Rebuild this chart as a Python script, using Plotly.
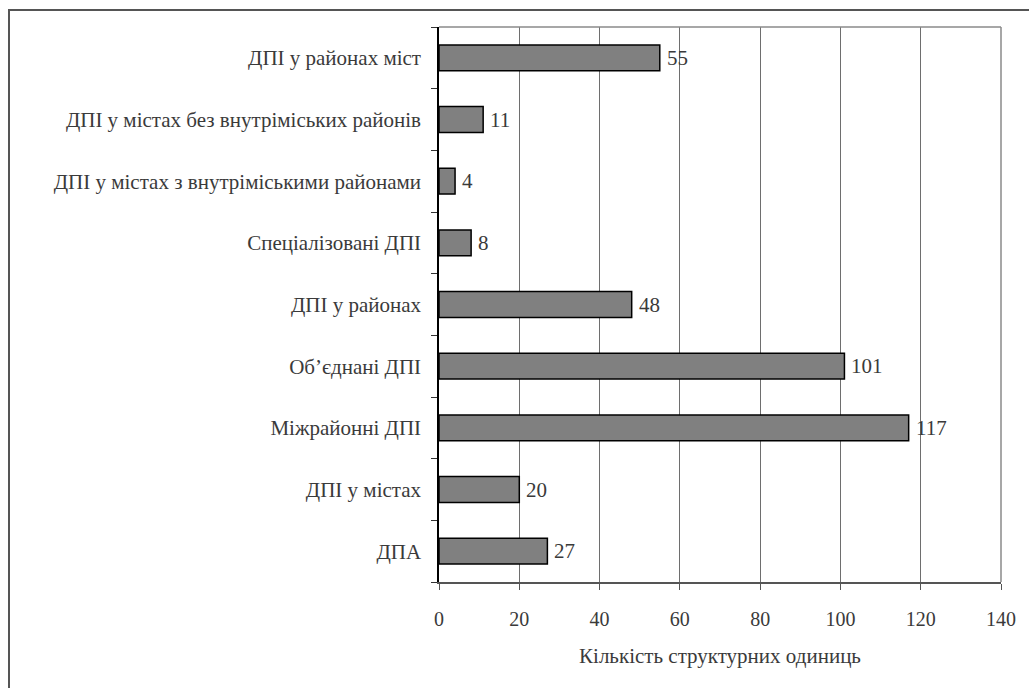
import plotly.graph_objects as go

categories = [
    "ДПА",
    "ДПІ у містах",
    "Міжрайонні ДПІ",
    "Об’єднані ДПІ",
    "ДПІ у районах",
    "Спеціалізовані ДПІ",
    "ДПІ у містах з внутріміськими районами",
    "ДПІ у містах без внутріміських районів",
    "ДПІ у районах міст",
]
counts = [27, 20, 117, 101, 48, 8, 4, 11, 55]
x_ticks = [0, 20, 40, 60, 80, 100, 120, 140]

W, H = 1029, 688
L, R, T, B = 439, 28, 27, 106
plot_w = W - L - R
plot_h = H - T - B

font_family = "Liberation Serif"
text_color = "#3a3a3a"

fig = go.Figure(
    go.Bar(
        x=counts,
        y=categories,
        orientation="h",
        marker=dict(color="#808080", line=dict(color="#000000", width=1.5)),
        cliponaxis=False,
    )
)

# value labels just right of each bar
for cat, val in zip(categories, counts):
    fig.add_annotation(
        x=val, y=cat, xref="x", yref="y",
        text=str(val), showarrow=False,
        xanchor="left", xshift=5,
        font=dict(family=font_family, size=21, color=text_color),
    )

# outer frame around the chart
fx0 = (9 - L) / plot_w
fy1 = 1 + (T - 10) / plot_h
fig.add_shape(
    type="rect", xref="paper", yref="paper",
    x0=fx0, x1=(W + 20 - L) / plot_w,
    y0=-(B + 20) / plot_h, y1=fy1,
    line=dict(color="#555555", width=2),
    layer="below",
)

fig.update_layout(
    width=W, height=H,
    margin=dict(l=L, r=R, t=T, b=B, pad=0),
    paper_bgcolor="white",
    plot_bgcolor="white",
    bargap=0.58,
    showlegend=False,
    font=dict(family=font_family, color=text_color),
    xaxis=dict(
        range=[0, 140],
        tickvals=x_ticks,
        showgrid=True,
        gridcolor="#6e6e6e",
        gridwidth=1,
        showline=True,
        linecolor="#555555",
        linewidth=1.5,
        mirror=False,
        ticks="outside",
        ticklen=6,
        tickcolor="#555555",
        tickfont=dict(family=font_family, size=20, color=text_color),
        ticklabelstandoff=12,
        zeroline=False,
        title=dict(
            text="Кількість структурних одиниць",
            font=dict(family=font_family, size=21, color=text_color),
            standoff=20,
        ),
    ),
    yaxis=dict(
        showline=True,
        linecolor="#000000",
        linewidth=1.5,
        ticks="outside",
        tickson="boundaries",
        ticklen=6,
        tickcolor="#333333",
        showgrid=False,
        tickfont=dict(family=font_family, size=21, color=text_color),
        ticklabelstandoff=12,
    ),
)

# thin top and right border of the plot area
fig.add_shape(type="line", xref="paper", yref="paper", x0=0, x1=1, y0=1, y1=1,
              line=dict(color="#8a8a8a", width=1.5))
fig.add_shape(type="line", xref="paper", yref="paper", x0=1, x1=1, y0=0, y1=1,
              line=dict(color="#8a8a8a", width=1.5))

fig.write_html("out.html")
